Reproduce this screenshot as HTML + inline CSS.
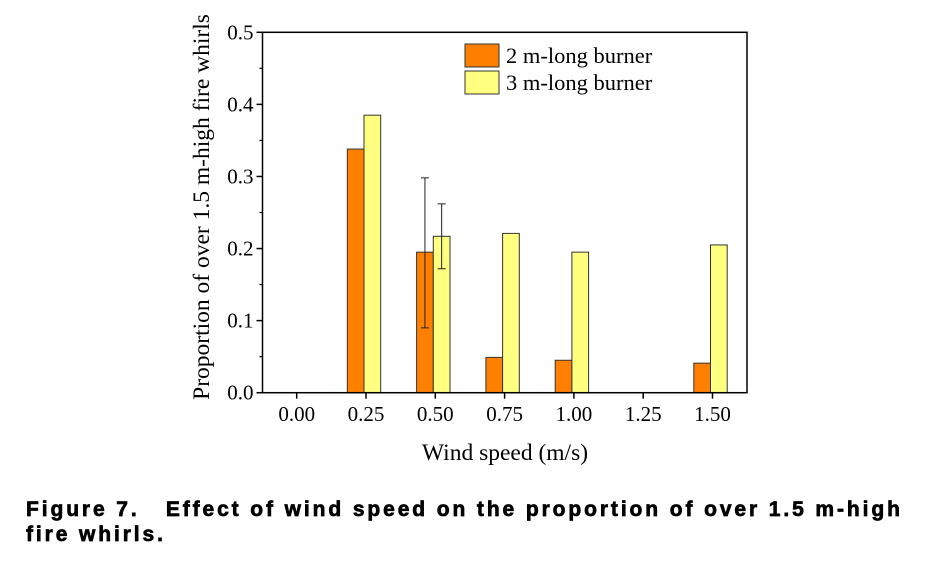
<!DOCTYPE html>
<html><head><meta charset="utf-8"><style>
body{margin:0;background:#fff;}
svg text{font-family:"Liberation Serif",serif;fill:#000;}
.cap{position:absolute;left:26px;top:497px;font-family:"Liberation Sans",sans-serif;font-weight:900;font-size:21px;line-height:25px;letter-spacing:2.9px;color:#000;white-space:nowrap;-webkit-text-stroke:0.7px #000;}
</style></head><body>
<div style="position:relative;width:948px;height:562px;overflow:hidden">
<svg id="chart" width="948" height="562" style="position:absolute;left:0;top:0"></svg>
<div class="cap">Figure 7.&nbsp;&nbsp; Effect of wind speed on the proportion of over 1.5 m-high<br>fire whirls.</div>
</div>
<script>
const categories=["0.00","0.25","0.50","0.75","1.00","1.25","1.50"];
const burner2=[0,0.338,0.195,0.049,0.045,0,0.041];
const burner3=[0,0.385,0.217,0.221,0.195,0,0.205];
const err2=[null,null,[0.090,0.298],null,null,null,null];
const err3=[null,null,[0.172,0.262],null,null,null,null];
const yTicks=[0,0.1,0.2,0.3,0.4,0.5];
const NS="http://www.w3.org/2000/svg";
const svg=document.getElementById('chart');
const L=262.5,R=747,T=32.3,B=392.7;
const y=v=>B-(v/0.5)*(B-T);
const x=i=>296.7+i*69.3;
const bw=16.7;
function mk(t,a,txt){const e=document.createElementNS(NS,t);for(const k in a)e.setAttribute(k,a[k]);if(txt!==undefined)e.textContent=txt;svg.appendChild(e);return e;}
categories.forEach((c,i)=>{
 const cx=x(i)-2;
 if(burner2[i]>0){const r=mk('rect',{x:cx-bw,y:y(burner2[i]),width:bw,height:B-y(burner2[i]),fill:'#ff8000',stroke:'#333','stroke-width':1});
 }
 if(burner3[i]>0){const r=mk('rect',{x:cx,y:y(burner3[i]),width:bw,height:B-y(burner3[i]),fill:'#ffff80',stroke:'#333','stroke-width':1});
 }
 [[err2[i],cx-bw/2],[err3[i],cx+bw/2]].forEach(([e,ex])=>{if(!e)return;
  const g=mk('path',{d:`M${ex},${y(e[0])}V${y(e[1])}M${ex-4},${y(e[0])}h8M${ex-4},${y(e[1])}h8`,stroke:'#222','stroke-width':1,fill:'none'});
  });
});
const f=mk('rect',{x:L,y:T,width:R-L,height:B-T,fill:'none',stroke:'#000','stroke-width':1.5});

yTicks.forEach(v=>{mk('line',{x1:L-6,x2:L,y1:y(v),y2:y(v),stroke:'#000','stroke-width':1.5});
 const t=mk('text',{x:L-9,y:y(v)+7,'text-anchor':'end','font-size':21},v.toFixed(1));
 
 if(v<0.5)mk('line',{x1:L-3,x2:L,y1:y(v+0.05),y2:y(v+0.05),stroke:'#000','stroke-width':1.2});});
categories.forEach((c,i)=>{mk('line',{x1:x(i),x2:x(i),y1:B,y2:B+6,stroke:'#000','stroke-width':1.5});
 const t=mk('text',{x:x(i),y:421,'text-anchor':'middle','font-size':21},c);
 });
const xt=mk('text',{x:505,y:460,'text-anchor':'middle','font-size':23.5},'Wind speed (m/s)');

const yt=mk('text',{x:0,y:0,'text-anchor':'middle','font-size':23.5,transform:'translate(209,207) rotate(-90)'},'Proportion of over 1.5 m-high fire whirls');

[['#ff8000','2 m-long burner',44],['#ffff80','3 m-long burner',71]].forEach(([col,lab,yy])=>{
 const r=mk('rect',{x:465,y:yy,width:34,height:23,fill:col,stroke:'#333','stroke-width':1});
 
 const t=mk('text',{x:506,y:yy+19,'font-size':22.5},lab);
 });
</script>
</body></html>
